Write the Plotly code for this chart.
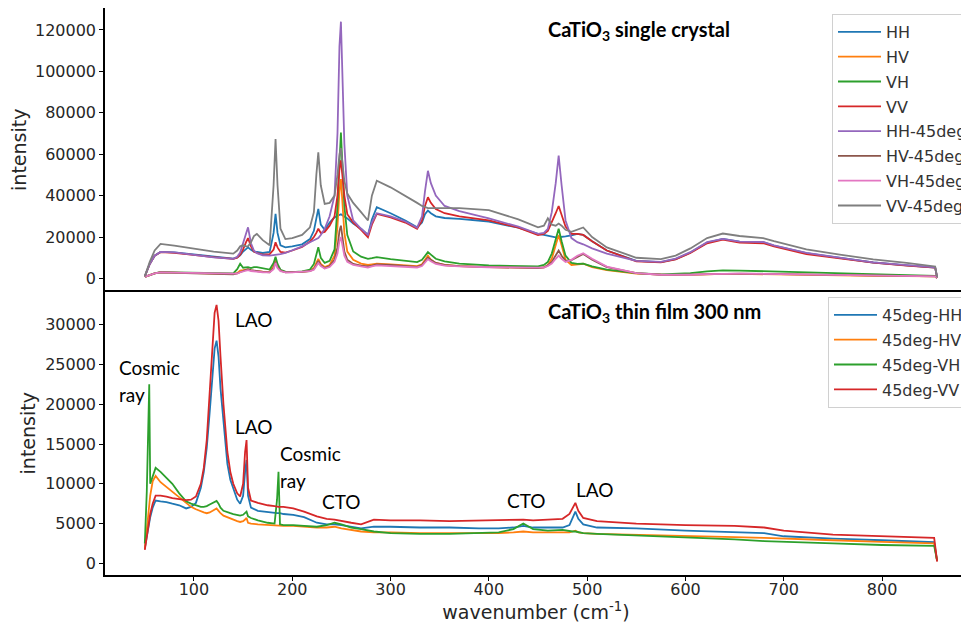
import plotly.graph_objects as go

# ---------------- data: CaTiO3 single crystal (top) ----------------
X_TOP = [50, 55, 60, 66, 80, 100, 120, 140, 144, 147, 150, 153, 155, 158, 161,
         164, 170, 177, 181, 183, 185, 188, 193, 200, 210, 218, 222, 224.5, 226.5, 229,
         233, 238, 243, 246, 248, 249.5, 251, 253, 256, 262, 270, 277, 281, 286, 300,
         315, 327, 332, 335, 338, 341, 346, 355, 370, 400, 430, 450, 456, 460, 464,
         468, 471, 474, 478, 484, 490, 496, 505, 520, 550, 575, 590, 605, 622, 638,
         655, 679, 690, 723, 757, 791, 825, 854, 856]

HH = [1000, 7000, 11000, 12800, 12600, 11500, 10500, 9600, 10200, 11200,
      13000, 14500, 15000, 13800, 13000, 12800, 12300, 12800, 22000, 31200,
      22000, 16000, 15000, 15500, 16500, 19000, 23000, 29000, 33600, 26000,
      23500, 27000, 29500, 30200, 30500, 31000, 30500, 30000, 29000, 26500,
      24000, 21000, 28500, 34400, 31500, 28000, 24700, 27000, 31000, 32800,
      31500, 30000, 29200, 28800, 27500, 24500, 21500, 21000, 20500, 20000,
      19800, 19900, 20000, 20300, 20800, 21500, 21000, 18000, 13500, 8500,
      7900, 9300, 12500, 17300, 19100, 17800, 17500, 15900, 12200, 10000,
      7700, 6300, 5300, 500]
HV = [800, 1800, 2500, 2900, 2800, 2500, 2300, 2200, 2600, 3800,
      4000, 4200, 4400, 3900, 3600, 3500, 3300, 3200, 6000, 9000,
      6000, 3800, 3100, 3000, 3200, 3700, 5000, 7500, 9500, 7000,
      5500, 6500, 11000, 25000, 42000, 48000, 38000, 22000, 13000, 9000,
      7200, 6500, 6800, 7100, 6800, 6400, 6000, 6800, 9000, 11000,
      9000, 7500, 6500, 6000, 5500, 5200, 5000, 5300, 6500, 9500,
      16000, 21000, 16000, 9000, 6500, 6800, 7100, 5500, 4000, 2300,
      1700, 1600, 1700, 2000, 2200, 2200, 2100, 2000, 1800, 1500,
      1300, 1100, 1000, 200]
VH = [800, 1800, 2500, 3000, 2900, 2600, 2400, 2500, 4500, 7100,
      5200, 5500, 5500, 5000, 5500, 5500, 5000, 4300, 7500, 10500,
      7000, 4200, 3300, 3100, 3400, 4300, 7000, 11500, 15100, 10000,
      7500, 8500, 14000, 35000, 60000, 70500, 55000, 35000, 21000, 13000,
      10500, 9500, 9800, 10300, 9300, 8500, 7900, 9000, 11000, 12700,
      11500, 9500, 8300, 7200, 6300, 6000, 5800, 6500, 8000, 12000,
      19000, 24000, 18000, 11000, 7500, 7000, 7200, 5800, 4300, 2600,
      2000, 2200, 2600, 3400, 3900, 3800, 3500, 3300, 3000, 2500,
      2000, 1500, 1200, 200]
VV = [1000, 7000, 11000, 12700, 12400, 11300, 10300, 9500, 10000, 11500,
      14000, 17500, 19500, 15500, 13000, 12300, 11500, 11700, 14000, 17500,
      15000, 12800, 12500, 13500, 15200, 17800, 20000, 22000, 24000, 22000,
      22500, 25500, 30000, 40000, 53000, 57000, 50000, 40000, 31000, 27000,
      23500, 19900, 26000, 31200, 29500, 27000, 24000, 28000, 35000, 39200,
      36500, 33500, 31500, 30000, 28000, 24500, 21000, 21500, 23000, 27000,
      31500, 35000, 31000, 25000, 21500, 21500, 21000, 18000, 13500, 8300,
      7800, 9200, 12300, 17000, 18800, 17300, 17000, 15500, 11800, 9800,
      7600, 6200, 5200, 500]
HH_45 = [1000, 7000, 11000, 12800, 12600, 11300, 10200, 9500, 10500, 12500,
         17000, 22500, 24700, 17000, 13500, 12200, 11200, 11000, 11200, 11400,
         11500, 11800, 12300, 13500, 15500, 17500, 18300, 19000, 19500, 21000,
         24000, 30000, 40000, 70000, 112000, 124000, 100000, 65000, 40000, 28000,
         24000, 21000, 27000, 31500, 30000, 27500, 24500, 30000, 42000, 52000,
         46000, 40000, 35000, 32500, 29000, 25000, 21500, 22000, 24000, 32000,
         46000, 59300, 45000, 28000, 19500, 17500, 16500, 14500, 12000, 8500,
         8000, 9600, 12700, 17500, 19100, 17800, 17600, 16000, 12300, 10100,
         7800, 6400, 5400, 500]
HV_45 = [800, 1800, 2500, 3000, 2900, 2500, 2200, 2000, 2400, 3200,
         3600, 4200, 4500, 4000, 3700, 3600, 3200, 3000, 5000, 8000,
         5500, 3800, 3000, 3000, 3200, 3600, 4500, 6500, 8500, 6500,
         5000, 6000, 9000, 15000, 23000, 25500, 20000, 13000, 9000, 7000,
         6200, 5800, 6200, 6800, 6500, 6000, 5600, 6500, 8500, 10000,
         9000, 7500, 6500, 6000, 5500, 5200, 5000, 5300, 6300, 8000,
         11000, 13500, 11000, 8500, 8800, 10500, 11800, 9000, 5500, 2600,
         1800, 1700, 1800, 2100, 2300, 2300, 2200, 2100, 1900, 1600,
         1400, 1200, 1000, 200]
VH_45 = [800, 1800, 2500, 2900, 2800, 2500, 2200, 2000, 2300, 3000,
         3300, 3800, 4000, 3600, 3400, 3300, 3000, 2900, 4500, 7500,
         5000, 3500, 2900, 2900, 3100, 3500, 4200, 6000, 7500, 6000,
         4800, 5500, 8000, 12000, 18000, 20000, 16000, 11000, 8000, 6500,
         5800, 5300, 5800, 6300, 6000, 5600, 5300, 6000, 7800, 9300,
         8300, 7000, 6200, 5800, 5400, 5100, 4900, 5200, 6000, 7200,
         9500, 11000, 9500, 8000, 9000, 11000, 12200, 9500, 5700, 2600,
         1800, 1700, 1800, 2100, 2300, 2300, 2200, 2100, 1900, 1600,
         1400, 1200, 1000, 200]
VV_45 = [1000, 8000, 13500, 16700, 15800, 14300, 13000, 12000, 13500, 15500,
         16000, 15500, 15500, 17500, 20500, 21500, 18500, 16000, 45000, 67300,
         45000, 24000, 19000, 19500, 21000, 24700, 32000, 50000, 60900, 45000,
         36000, 36500, 40000, 50000, 60000, 63000, 57000, 47000, 41000, 36500,
         32000, 28000, 40000, 47200, 44000, 40000, 36500, 35000, 34500, 34000,
         34000, 34000, 34000, 34000, 33000, 28500, 24700, 25500, 29000, 26000,
         25500, 26500, 25500, 23500, 22500, 23500, 24600, 20000, 15000, 10000,
         9300, 11000, 14500, 19500, 21700, 20500, 19500, 18000, 14000, 11500,
         9200, 7500, 5800, 500]

TOP_NAMES = ["HH", "HV", "VH", "VV", "HH-45deg", "HV-45deg", "VH-45deg", "VV-45deg"]
TOP_SERIES = [HH, HV, VH, VV, HH_45, HV_45, VH_45, VV_45]

# ---------------- data: CaTiO3 thin film 300 nm (bottom) ----------------
X_BOT = [50, 52, 53.5, 54.5, 55.5, 58, 61, 66, 72, 78, 85, 92, 97, 102, 107,
         110, 113, 116, 119, 121, 123, 125, 127, 130, 134, 137, 140, 144, 147, 150,
         152, 153.5, 155, 158, 165, 175, 182, 184.5, 186, 187.5, 191, 201, 212, 225, 235,
         243, 250, 260, 270, 283, 300, 330, 360, 390, 410, 425, 435, 445, 460, 475,
         482, 485, 488, 491, 496, 510, 550, 600, 650, 680, 700, 750, 800, 830, 853, 856]

D45_HH = [1900, 3500, 4600, 5200, 5800, 7000, 7900, 7800, 7700, 7500, 7300, 6900, 7100, 7600, 9500,
          11500, 14500, 19000, 24500, 27000, 28000, 26000, 22000, 17500, 12500, 10500, 9300, 8000, 7500, 8500,
          11500, 13000, 8500, 7000, 6600, 6400, 6300, 6300, 6300, 6300, 6200, 6100, 5800, 5100, 4900,
          4900, 4800, 4600, 4400, 4600, 4600, 4500, 4500, 4400, 4400, 4500, 4700, 4500, 4500, 4500,
          4800, 5600, 6500, 5600, 4900, 4500, 4400, 4100, 3900, 3800, 3400, 3100, 2900, 2750, 2650, 300]
D45_HV = [1800, 4500, 6500, 7500, 8500, 10300, 11000, 10200, 9600, 9000, 8400, 7600, 7100, 6800, 6500,
          6400, 6300, 6400, 6600, 6800, 6900, 6600, 6300, 6000, 5800, 5600, 5400, 5300, 5200, 5300,
          5500, 5700, 5100, 5000, 4900, 4800, 4700, 4700, 4700, 4700, 4700, 4700, 4600, 4500, 4500,
          4600, 4400, 4200, 4000, 3900, 3900, 3800, 3800, 3800, 3800, 3900, 4000, 3900, 3900, 3900,
          3900, 4000, 4100, 3900, 3800, 3700, 3600, 3500, 3300, 3200, 3100, 2900, 2700, 2600, 2500, 300]
D45_VH = [2500, 9000, 17000, 22500, 10000, 11000, 12000, 11500, 10700, 10000, 8800, 7800, 7500, 7300, 7100,
          7100, 7200, 7400, 7600, 7800, 7850, 7500, 7000, 6600, 6400, 6300, 6200, 6100, 6000, 6100,
          6300, 6500, 5900, 5700, 5400, 5100, 5000, 8000, 11500, 4900, 4800, 4800, 4700, 4600, 4800,
          5100, 4900, 4500, 4300, 4000, 3800, 3700, 3700, 3800, 3900, 4300, 5000, 4300, 4100, 4200,
          4000, 4000, 4000, 3900, 3800, 3700, 3500, 3300, 3000, 2800, 2700, 2500, 2300, 2200, 2200, 300]
D45_VV = [1700, 3500, 4800, 5500, 6200, 7500, 8500, 8500, 8400, 8200, 8100, 7950, 8000, 8400, 10000,
          12000, 15500, 21500, 28000, 31500, 32500, 30500, 26000, 20000, 14000, 11500, 10000, 8800, 8400, 10000,
          14000, 15500, 9500, 7900, 7600, 7300, 7200, 7100, 7100, 7100, 7100, 6900, 6500, 5900, 5600,
          5500, 5300, 5100, 4900, 5500, 5400, 5400, 5300, 5400, 5400, 5500, 5500, 5400, 5500, 5600,
          6200, 7000, 7600, 6600, 5700, 5300, 5000, 4800, 4700, 4500, 4100, 3600, 3400, 3300, 3200, 200]

BOT_NAMES = ["45deg-HH", "45deg-HV", "45deg-VH", "45deg-VV"]
BOT_SERIES = [D45_HH, D45_HV, D45_VH, D45_VV]

X_TICKS = [100, 200, 300, 400, 500, 600, 700, 800]
TOP_Y_TICKS = [0, 20000, 40000, 60000, 80000, 100000, 120000]
BOT_Y_TICKS = [0, 5000, 10000, 15000, 20000, 25000, 30000]

TOP_COLORS = ["#1f77b4", "#ff7f0e", "#2ca02c", "#d62728",
              "#9467bd", "#8c564b", "#e377c2", "#7f7f7f"]
BOT_COLORS = ["#1f77b4", "#ff7f0e", "#2ca02c", "#d62728"]

# ---------------- figure ----------------
# the page body adds an 8px offset; the figure is sized/placed to compensate
OFF = 8
W, H = 969 - OFF, 624 - OFF
PL, PR, PT, PB = 105, 967, 8, 575          # plot area in page pixels
ML, MR, MT, MB = PL - OFF, (W + OFF) - PR, PT - OFF, (H + OFF) - PB
PW, PH = PR - PL, PB - PT


def px(xp):
    return (xp - PL) / PW


def py(yp):
    return (PB - yp) / PH


fig = go.Figure()
for name, ys, c in zip(TOP_NAMES, TOP_SERIES, TOP_COLORS):
    fig.add_trace(go.Scatter(x=X_TOP, y=ys, mode="lines", name=name,
                             line=dict(color=c, width=1.8),
                             xaxis="x", yaxis="y", legend="legend", legendgroup=name))
for name, ys, c in zip(BOT_NAMES, BOT_SERIES, BOT_COLORS):
    fig.add_trace(go.Scatter(x=X_BOT, y=ys, mode="lines", name=name,
                             line=dict(color=c, width=1.8),
                             xaxis="x2", yaxis="y2", legend="legend2", legendgroup=name))

tickfont = dict(family="DejaVu Sans", size=16, color="#262626")
title_f = dict(family="DejaVu Sans", size=19, color="#262626")
axis_common = dict(showline=True, linecolor="black", linewidth=1.5,
                   showgrid=False, zeroline=False, ticklen=4, automargin=False,
                   tickcolor="black", tickwidth=1.2, tickfont=tickfont, tickformat="d")
XR = [9.5, 886.4]

fig.update_layout(
    width=W, height=H,
    margin=dict(l=ML, r=MR, t=MT, b=MB, autoexpand=False),
    paper_bgcolor="white", plot_bgcolor="white",
    font=dict(family="DejaVu Sans", color="#262626"),
    showlegend=True,
    # top panel: only its top spine (the shared middle line comes from the lower panel)
    xaxis=dict(domain=[0, 1], anchor="y", range=XR, matches="x2", side="top", mirror=False,
               showticklabels=False, ticks="", **axis_common),
    yaxis=dict(domain=[0.5, 1], anchor="x", range=[-6300, 130600], tickvals=TOP_Y_TICKS,
               mirror=True, ticks="outside",
               title=dict(text="intensity", font=title_f, standoff=4),
               **axis_common),
    xaxis2=dict(domain=[0, 1], anchor="y2", range=XR, tickvals=X_TICKS, ticks="outside",
                mirror=True, ticklabelstandoff=-5,
                title=dict(text="wavenumber (cm<sup>-1</sup>)", font=title_f, standoff=3),
                **axis_common),
    yaxis2=dict(domain=[0, 0.5], anchor="x2", range=[-1470, 34180], tickvals=BOT_Y_TICKS,
                mirror=True, ticks="outside",
                title=dict(text="intensity", font=title_f, standoff=4),
                **axis_common),
    legend=dict(x=px(832), y=py(14), xanchor="left", yanchor="top",
                bgcolor="white", bordercolor="#d0d0d0", borderwidth=1,
                font=dict(family="DejaVu Sans", size=16, color="#333333"),
                tracegroupgap=1, itemwidth=43),
    legend2=dict(x=px(828), y=py(297), xanchor="left", yanchor="top",
                 bgcolor="white", bordercolor="#d0d0d0", borderwidth=1,
                 font=dict(family="DejaVu Sans", size=16, color="#333333"),
                 tracegroupgap=1, itemwidth=43),
)

ann_font = dict(family="Lato", size=19, color="black")
title_font = dict(family="Lato", size=20, color="black")
anns = [
    ("<b>CaTiO<sub>3</sub> single crystal</b>", 546, 30, title_font),
    ("<b>CaTiO<sub>3</sub> thin film 300 nm</b>", 546, 312, title_font),
    ("Cosmic", 117, 367, ann_font),
    ("ray", 117, 394, ann_font),
    ("LAO", 233, 319, ann_font),
    ("LAO", 233, 426, ann_font),
    ("Cosmic", 278, 453, ann_font),
    ("ray", 278, 480, ann_font),
    ("CTO", 320, 501, ann_font),
    ("CTO", 505, 500, ann_font),
    ("LAO", 574, 489, ann_font),
]
for text, ax_, ay_, f in anns:
    fig.add_annotation(text=text, x=px(ax_), y=py(ay_), xref="paper", yref="paper",
                       xanchor="left", yanchor="middle", showarrow=False, font=f)

fig.write_html("out.html")
